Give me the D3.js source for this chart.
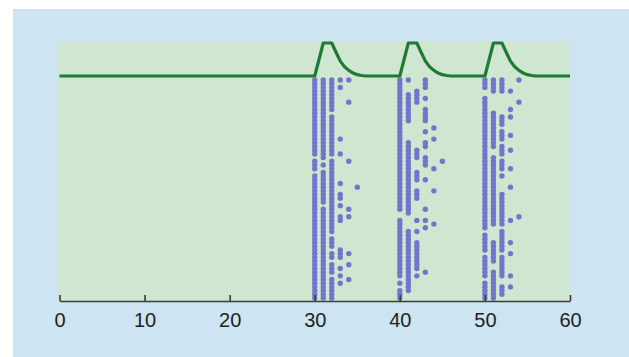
<!DOCTYPE html>
<html>
<head>
<meta charset="utf-8">
<script src="https://cdn.jsdelivr.net/npm/d3@7"></script>
<style>
  html, body { margin: 0; padding: 0; background: #ffffff; }
  svg { display: block; }
  .axis text { font-family: "Liberation Sans", Arial, sans-serif; font-size: 20px; fill: #231f20; }
  .axis path, .axis line { stroke: #3b3d36; stroke-width: 1.6; }
</style>
</head>
<body>
<svg id="chart" width="629" height="357"></svg>
<script>
// x ticks
const xTicks = [0, 10, 20, 30, 40, 50, 60];

// green rate curve (time, normalised value)
const curveTime = [0, 30, 31, 32, 32.5, 33, 33.5, 34, 34.5, 35, 35.5, 36,
  40, 41, 42, 42.5, 43, 43.5, 44, 44.5, 45, 45.5, 46,
  50, 51, 52, 52.5, 53, 53.5, 54, 54.5, 55, 55.5, 56, 60];
const curveValue = [0, 0, 1, 1, 0.72, 0.45, 0.28, 0.17, 0.09, 0.04, 0.015, 0,
  0, 1, 1, 0.72, 0.45, 0.28, 0.17, 0.09, 0.04, 0.015, 0,
  0, 1, 1, 0.72, 0.45, 0.28, 0.17, 0.09, 0.04, 0.015, 0, 0];

// raster: one column per spike time, 60 trials each ('|' = spike), chunks of 10
const spikeTimes = [30, 31, 32, 33, 34, 35, 40, 41, 42, 43, 44, 45, 50, 51, 52, 53, 54];
const spikeRows = [
  '|||||||||| |||||||||| |.|||.|||| |||||||||| |||||||||| ||||||||||',
  '|||||||||| |||||||||| ||.|.||||| ||||.||||| |||||||||| ||||||||||',
  '|||||||||. |||||||||| |.|||||||| |||||||||| ||.|||.||. |||.||||||',
  '|.|....... ......|... |.......|. .||.|..||. ......|||. .|.|.|....',
  '|.....|... .......... ..|....... .....|.|.. .......|.. |...|.....',
  '.......... .......... .........| .......... .......... ..........',
  '|||||||||| |||||||||| |||||||||| ||||||..|| |||||||||| ||||.|.|||',
  '|...|||||| ||.....||| |||||||||| |||||||... .||||||||| ||||||||..',
  '...||||... .........| ||...|||.. |||.....|. .|..|||||| ||.|......',
  '|||..|..|| ||..|..||. .|||...|.. .....|..|. |......... ..|.......',
  '.......... ...|..|... ....|..... |........| .......... ..........',
  '.......... .......... ..|....... .......... .......... ..........',
  '|||..||||| |||||||||| |||||||||| |||||||||| |.|||||.|| ||||.|||||',
  '||||.....| |||||||||. .||||||||| |||||||||| ....|||||| ..||||||||',
  '||||...... |||.|||.|| |.|||.|... .||||||||| .||||||.|| ||||..|||.',
  '...|....|. |....|...| ....|....| ........|. ....|..|.. ...|..|...',
  '|.....|... .......... .......... .......|.. .......... ..........'
];

const W = 629, H = 357;
const svg = d3.select('#chart');

// light blue panel
svg.append('rect')
  .attr('x', 13).attr('y', 9)
  .attr('width', W - 13).attr('height', H - 9)
  .attr('fill', '#cde4f2');

const plotLeft = 58, plotRight = 570, plotTop = 41, axisY = 301;

const x = d3.scaleLinear().domain([0, 60]).range([59.5, 570]);
const yCurve = d3.scaleLinear().domain([0, 1]).range([76, 43]);
const yTrial = d3.scaleLinear().domain([0, 59]).range([80, 298]);

// green plot area
svg.append('rect')
  .attr('x', plotLeft).attr('y', plotTop)
  .attr('width', plotRight - plotLeft).attr('height', axisY - plotTop)
  .attr('fill', '#cfe7d0');

// raster dots
const dots = [];
spikeRows.forEach(function (row, ci) {
  row.replace(/ /g, '').split('').forEach(function (c, ti) {
    if (c === '|') dots.push({ t: spikeTimes[ci], trial: ti });
  });
});

svg.append('g')
  .selectAll('circle')
  .data(dots)
  .join('circle')
  .attr('cx', function (d) { return x(d.t); })
  .attr('cy', function (d) { return yTrial(d.trial); })
  .attr('r', 2.7)
  .attr('fill', '#7276cb');

// rate curve
const curveData = curveTime.map(function (t, i) { return { t: t, v: curveValue[i] }; });
svg.append('path')
  .datum(curveData)
  .attr('fill', 'none')
  .attr('stroke', '#1f7a36')
  .attr('stroke-width', 3.2)
  .attr('stroke-linejoin', 'round')
  .attr('d', d3.line()
    .x(function (d) { return x(d.t); })
    .y(function (d) { return yCurve(d.v); }));

// x axis with upward ticks
const axis = svg.append('g')
  .attr('class', 'axis')
  .attr('transform', 'translate(0,' + axisY + ')')
  .call(d3.axisBottom(x).tickValues(xTicks).tickSize(-6).tickSizeOuter(0).tickPadding(12));
axis.selectAll('text').attr('dy', '0.71em');
</script>
</body>
</html>
